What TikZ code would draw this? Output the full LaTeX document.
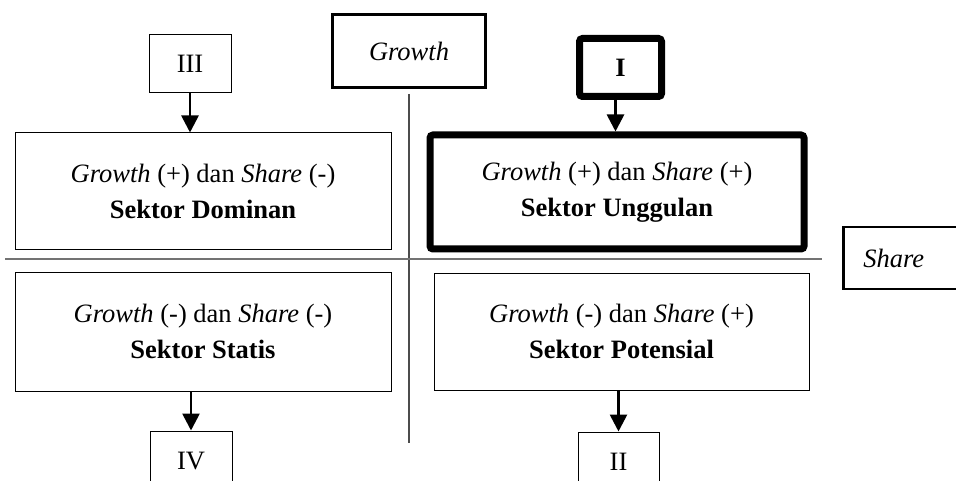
\documentclass[tikz,border=0pt]{standalone}
\usepackage{fontspec}
\setmainfont{Liberation Serif}
\usetikzlibrary{arrows.meta}
\tikzset{
    quadbox/.style={
        draw,line width=1pt,minimum width=376pt,minimum height=117pt,align=center,inner sep=0pt
    },
    tagbox/.style={
        draw,line width=1pt,minimum width=82pt,minimum height=58pt,inner sep=0pt
    },
    axisline/.style={
        line width=1.3pt,draw=black!70
    },
    downarrow/.style={
        line width=2.7pt,-{Triangle[width=17pt,length=17pt]}
    }
}
\newcommand{\bigfont}{\fontsize{26.5}{36}\selectfont}

\begin{document}
\begin{tikzpicture}[x=1pt,y=-1pt,font=\bigfont]
\clip (0,0) rectangle (956,481);
% quadrants
\node[quadbox] (tl) at (203,191.5) {\textit{Growth} (+) dan \textit{Share} (-)\\\textbf{Sektor Dominan}};
\node[quadbox,line width=7pt,minimum width=374pt,minimum height=114pt,rounded corners=3pt] (tr) at (617,192) {\textit{Growth} (+) dan \textit{Share} (+)\\\textbf{Sektor Unggulan}};
\node[quadbox,minimum height=119pt] (bl) at (203,331.5) {\textit{Growth} (-) dan \textit{Share} (-)\\\textbf{Sektor Statis}};
\node[quadbox,minimum width=375pt] (br) at (621.5,331.5) {\textit{Growth} (-) dan \textit{Share} (+)\\\textbf{Sektor Potensial}};
% axes
\node[draw,line width=3pt,minimum width=153pt,minimum height=73pt] (growth) at (409,51) {\textit{Growth}};
\node[draw,line width=2.5pt,anchor=west,text width=110pt,inner xsep=20pt,minimum height=62pt] (share) at (842,258) {\textit{Share}};
\coordinate (vtop) at (409,94);
\coordinate (vbot) at (409,443);
\coordinate (hleft) at (5,259);
\coordinate (hright) at (822,259);
\draw[axisline] (vtop) -- (vbot);
\draw[axisline,line width=2pt,draw=black!55] (hleft) -- (hright);
% tags
\node[tagbox] (iii) at (190,64) {III};
\node[tagbox,line width=7pt,rounded corners=3pt] (i) at (620.5,67.5) {\textbf{I}};
\node[tagbox,minimum height=60pt] (iv) at (191,461) {IV};
\node[tagbox,minimum width=81pt,minimum height=60pt] (ii) at (618.5,462) {II};
\draw[downarrow] (iii.south) -- (iii.south |- tl.north);
\draw[downarrow] ([xshift=-5pt]i.south) -- ([xshift=-5pt]i.south |- tr.north);
\draw[downarrow] (iv.north |- bl.south) -- (iv.north);
\draw[downarrow] (ii.north |- br.south) -- (ii.north);
\end{tikzpicture}
\end{document}
